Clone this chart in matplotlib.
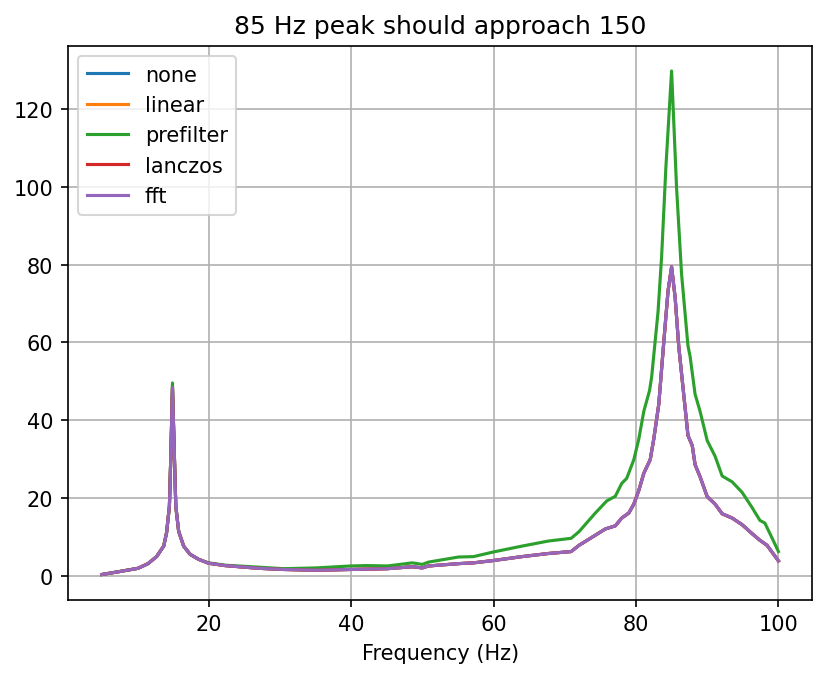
import matplotlib
matplotlib.use("Agg")
import matplotlib.pyplot as plt

# Frequencies (Hz) and amplitudes
freq_smooth = [5, 7.3, 10.1, 11.5, 12.7, 13.7, 14.1, 14.5, 14.7, 14.93, 15.2, 15.4, 15.8, 16.5, 17.4,
               18.6, 20, 22.3, 27, 30.5, 35.1, 40, 45.1, 48.6, 50, 50.9, 55.1, 57.2, 60, 64, 67.7,
               70.9, 72.0, 74.3, 75.7, 77.1, 78.0, 79.0, 79.7, 80.4, 81.1, 82.0, 82.5, 83.2, 83.9,
               84.5, 85.0, 85.5, 86.0, 86.7, 87.3, 87.9, 88.3, 89.0, 90.0, 91.1, 92.1, 93.5, 94.9,
               96.3, 97.4, 98.4, 100]
fft_vals = [0.4, 1.1, 2.0, 3.2, 5.0, 7.7, 11.1, 17.9, 30.8, 48.4, 30.8, 17.9, 11.5, 7.7, 5.6,
            4.3, 3.3, 2.7, 2.0, 1.7, 1.5, 1.7, 1.9, 2.4, 2.1, 2.6, 3.2, 3.4, 4.0, 5.0, 5.8,
            6.3, 7.9, 10.5, 12.1, 12.9, 14.9, 16.2, 18.5, 22.0, 26.4, 29.9, 35.2, 44.1, 60.0,
            73.2, 79.4, 71.5, 59.1, 46.7, 36.1, 33.5, 28.6, 25.5, 20.4, 18.5, 16.0, 14.9, 13.2,
            10.9, 9.2, 7.9, 3.9]
none_vals = list(fft_vals)
linear_vals = list(fft_vals)
lanczos_vals = list(fft_vals)

freq_prefilter = [5, 7.3, 10.1, 11.5, 12.7, 13.7, 14.1, 14.5, 14.7, 14.93, 15.2, 15.4, 15.8, 16.5, 17.4,
                  18.6, 20, 22.3, 27, 30.5, 35.1, 40, 42.1, 45.1, 48.6, 50, 50.9, 55.1, 57.2, 60, 64,
                  67.7, 70.9, 72.0, 74.3, 75.9, 77.1, 78.0, 78.7, 79.7, 80.4, 81.1, 81.9, 82.2, 83.1,
                  83.6, 84.2, 85.0, 85.7, 86.4, 87.3, 87.6, 88.3, 89.0, 90.0, 91.1, 92.1, 93.5, 94.9,
                  96.3, 97.4, 98.1, 99.1, 100]
prefilter_vals = [0.4, 1.1, 2.0, 3.2, 5.0, 7.7, 11.1, 17.9, 30.8, 49.6, 30.8, 17.9, 11.5, 7.7, 5.6,
                  4.3, 3.4, 2.8, 2.3, 1.9, 2.1, 2.6, 2.7, 2.6, 3.4, 3.0, 3.6, 4.9, 5.0, 6.2, 7.7,
                  9.0, 9.7, 11.4, 16.2, 19.3, 20.5, 23.8, 25.1, 29.9, 35.2, 42.3, 47.6, 51.1, 67.9,
                  82.0, 105.0, 129.7, 99.7, 77.6, 59.1, 56.4, 46.7, 42.3, 34.8, 30.8, 25.7, 24.2, 21.5,
                  17.6, 14.3, 13.6, 9.8, 6.3]

fig = plt.figure(figsize=(828 / 150, 678 / 150), dpi=150)
ax = fig.add_axes([0.082, 0.114, 0.899, 0.817])

ax.plot(freq_smooth, none_vals, label="none")
ax.plot(freq_smooth, linear_vals, label="linear")
ax.plot(freq_prefilter, prefilter_vals, label="prefilter")
ax.plot(freq_smooth, lanczos_vals, label="lanczos")
ax.plot(freq_smooth, fft_vals, label="fft")

ax.set_title("85 Hz peak should approach 150")
ax.set_xlabel("Frequency (Hz)")
ax.grid(True)
ax.legend(loc="upper left")

fig.savefig("out.png", dpi=150)
